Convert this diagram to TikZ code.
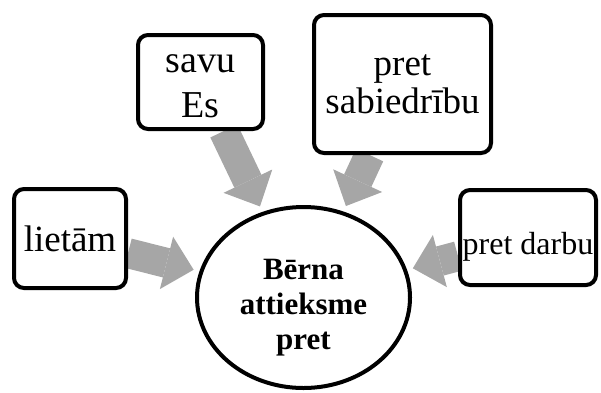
\documentclass[tikz,border=0pt]{standalone}
\usepackage{fontspec}
\setmainfont{Liberation Serif}
\usetikzlibrary{shapes.geometric,arrows.meta,backgrounds}
\definecolor{arrowgray}{HTML}{A6A6A6}
\tikzset{
	box/.style={draw,line width=4pt,rounded corners=10pt,fill=white,inner sep=0pt,align=center},
	blockarrow/.style={arrowgray,line width=30pt,shorten >=6pt,-{Triangle[line width=0pt,length=28pt,width=54pt]}}
}
\begin{document}
\begin{tikzpicture}[x=1pt,y=-1pt]
	\useasboundingbox (0,0) rectangle (601,392);
	
	\node[draw,ellipse,line width=4pt,fill=white,minimum width=213pt,minimum height=181pt,inner sep=0pt,align=center,font=\bfseries\fontsize{31}{35}\selectfont] (center) at (303.5,297.5) {\rule{0pt}{40pt}Bērna\\attieksme\\pret};
	
	\node[box,minimum width=112pt,minimum height=99pt,font=\fontsize{37}{40}\selectfont] (lietam) at (70,238.5) {lietām};
	\node[box,minimum width=125pt,minimum height=94pt,font=\fontsize{38}{45}\selectfont] (savu) at (200.5,82) {\rule{0pt}{27pt}savu\\Es};
	\node[box,minimum width=177pt,minimum height=138pt,font=\fontsize{37}{38}\selectfont] (sabiedriba) at (402.5,84) {pret\\sabiedrību};
	\node[box,minimum width=136pt,minimum height=95pt,font=\fontsize{32}{36}\selectfont] (darbs) at (528,237.5) {\rule{0pt}{40pt}pret darbu};
	
	\begin{scope}[on background layer]
		\draw[blockarrow] (lietam) -- (center);
		\draw[blockarrow] (savu) -- (center);
		\draw[blockarrow] (sabiedriba) -- (center);
		\draw[blockarrow] (darbs) -- (center);
	\end{scope}
	
\end{tikzpicture}
\end{document}
